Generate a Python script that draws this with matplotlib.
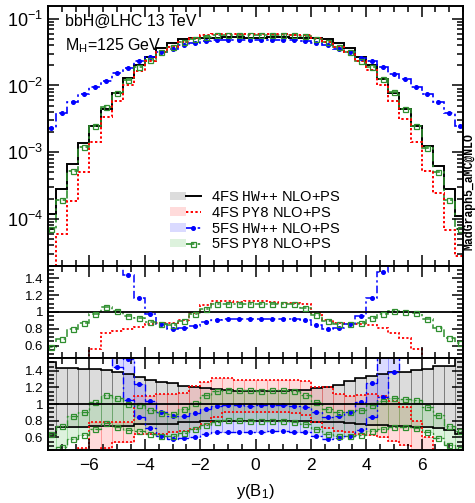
import numpy as np
import matplotlib
matplotlib.use('Agg')
import matplotlib.pyplot as plt
from matplotlib.patches import Patch
from matplotlib.lines import Line2D
from matplotlib.legend_handler import HandlerTuple
from matplotlib.ticker import MultipleLocator, LogLocator, NullFormatter, FuncFormatter

plt.rcParams['font.family'] = ['Liberation Sans', 'DejaVu Sans']
plt.rcParams['mathtext.fontset'] = 'custom'
plt.rcParams['mathtext.rm'] = 'Liberation Sans'
plt.rcParams['mathtext.it'] = 'Liberation Sans:italic'
plt.rcParams['mathtext.tt'] = 'Liberation Mono'

# binning in y(B1)
bin_start = -7.6
bin_width = 0.4
n_bins = 38
edges = bin_start + bin_width * np.arange(n_bins + 1)
centers = 0.5 * (edges[1:] + edges[:-1])

# main panel: normalised distributions
y_4fs_hw = [1.2e-4, 2.8e-4, 6.6e-4, 1.36e-3, 2.5e-3, 4.45e-3, 7.7e-3, 1.28e-2, 2.0e-2, 2.7e-2,
            3.7e-2, 4.4e-2, 4.95e-2, 5.15e-2, 5.2e-2, 5.2e-2, 5.25e-2, 5.25e-2, 5.2e-2, 5.2e-2,
            5.25e-2, 5.25e-2, 5.2e-2, 5.2e-2, 5.15e-2, 5.0e-2, 4.4e-2, 3.7e-2, 2.7e-2, 2.0e-2,
            1.26e-2, 7.8e-3, 4.5e-3, 2.5e-3, 1.25e-3, 6.3e-4, 2.8e-4, 1.1e-4]
y_4fs_py8 = [1.5e-5, 5.9e-5, 1.86e-4, 5.0e-4, 1.41e-3, 3.36e-3, 5.93e-3, 1.02e-2, 1.64e-2, 2.30e-2,
             3.20e-2, 3.81e-2, 4.46e-2, 5.10e-2, 5.62e-2, 5.90e-2, 5.93e-2, 5.90e-2, 5.88e-2, 5.90e-2,
             5.88e-2, 5.82e-2, 5.77e-2, 5.67e-2, 5.10e-2, 4.55e-2, 3.81e-2, 3.16e-2, 2.30e-2, 1.68e-2,
             1.02e-2, 5.89e-3, 3.13e-3, 1.41e-3, 5.3e-4, 2.43e-4, 6.8e-5, 2.8e-5]
y_5fs_hw = [2.3e-3, 3.9e-3, 5.75e-3, 7.4e-3, 9.45e-3, 1.17e-2, 1.53e-2, 1.84e-2, 2.32e-2, 2.63e-2,
            3.15e-2, 3.52e-2, 3.98e-2, 4.3e-2, 4.58e-2, 4.73e-2, 4.78e-2, 4.78e-2, 4.76e-2, 4.78e-2,
            4.84e-2, 4.84e-2, 4.76e-2, 4.68e-2, 4.38e-2, 3.98e-2, 3.54e-2, 3.15e-2, 2.57e-2, 2.33e-2,
            1.86e-2, 1.49e-2, 1.24e-2, 9.6e-3, 7.5e-3, 5.6e-3, 3.9e-3, 2.5e-3]
y_5fs_py8 = [7.0e-5, 1.9e-4, 5.28e-4, 1.18e-3, 2.44e-3, 4.72e-3, 7.78e-3, 1.22e-2, 1.86e-2, 2.38e-2,
             3.15e-2, 3.74e-2, 4.43e-2, 5.0e-2, 5.38e-2, 5.67e-2, 5.77e-2, 5.77e-2, 5.69e-2, 5.69e-2,
             5.72e-2, 5.72e-2, 5.67e-2, 5.46e-2, 4.97e-2, 4.45e-2, 3.76e-2, 3.16e-2, 2.36e-2, 1.86e-2,
             1.23e-2, 7.88e-3, 4.5e-3, 2.46e-3, 1.14e-3, 5.13e-4, 1.95e-4, 7.0e-5]

# bottom panel: uncertainty bands, as ratio to 4FS HW++ central
band_4fs_hw_hi = [1.50, 1.43, 1.43, 1.42, 1.42, 1.41, 1.39, 1.36, 1.33, 1.29,
                  1.27, 1.25, 1.22, 1.21, 1.19, 1.18, 1.17, 1.16, 1.155, 1.155,
                  1.155, 1.16, 1.165, 1.17, 1.19, 1.21, 1.235, 1.28, 1.31, 1.34,
                  1.36, 1.38, 1.39, 1.41, 1.42, 1.46, 1.46, 1.55]
band_4fs_hw_lo = [0.63, 0.72, 0.72, 0.72, 0.74, 0.74, 0.74, 0.74, 0.76, 0.76,
                  0.76, 0.76, 0.78, 0.78, 0.80, 0.80, 0.80, 0.80, 0.80, 0.80,
                  0.80, 0.80, 0.80, 0.80, 0.79, 0.785, 0.78, 0.77, 0.76, 0.755,
                  0.745, 0.74, 0.735, 0.725, 0.72, 0.71, 0.685, 0.645]
band_4fs_py8_hi = [0.18, 0.30, 0.40, 0.47, 0.79, 0.79, 0.79, 0.79, 1.10, 1.10,
                   1.12, 1.12, 1.13, 1.22, 1.27, 1.31, 1.31, 1.29, 1.29, 1.29,
                   1.29, 1.29, 1.29, 1.28, 1.21, 1.20, 1.12, 1.10, 1.11, 1.12,
                   1.10, 1.04, 0.97, 0.80, 0.60, 0.31, 0.15, 0.10]
band_4fs_py8_lo = [0.08, 0.15, 0.20, 0.27, 0.44, 0.47, 0.54, 0.54, 0.64, 0.64,
                   0.64, 0.66, 0.68, 0.70, 0.76, 0.85, 0.90, 0.90, 0.90, 0.90,
                   0.90, 0.90, 0.89, 0.87, 0.78, 0.71, 0.675, 0.66, 0.645, 0.635,
                   0.60, 0.56, 0.51, 0.41, 0.30, 0.15, 0.08, 0.05]
band_5fs_hw_hi = [20.3, 14.9, 9.3, 5.8, 4.0, 2.8, 2.13, 1.54, 1.24, 1.04,
                  0.91, 0.855, 0.86, 0.895, 0.94, 0.975, 0.985, 0.985, 0.98, 0.985,
                  0.995, 0.995, 0.98, 0.965, 0.91, 0.85, 0.86, 0.91, 1.02, 1.25,
                  1.58, 2.04, 2.95, 4.1, 6.4, 9.5, 14.9, 24.3]
band_5fs_hw_lo = [13.9, 10.1, 6.4, 3.9, 2.76, 1.92, 1.45, 1.05, 0.85, 0.71,
                  0.62, 0.585, 0.59, 0.61, 0.64, 0.665, 0.67, 0.67, 0.67, 0.67,
                  0.68, 0.68, 0.67, 0.66, 0.62, 0.58, 0.59, 0.62, 0.69, 0.85,
                  1.08, 1.39, 2.01, 2.8, 4.4, 6.5, 10.1, 16.6]
band_5fs_py8_hi = [0.64, 0.74, 0.855, 0.91, 1.025, 1.11, 1.07, 1.005, 0.985, 0.925,
                   0.89, 0.885, 0.945, 1.015, 1.105, 1.155, 1.175, 1.17, 1.165, 1.16,
                   1.165, 1.165, 1.155, 1.11, 1.02, 0.945, 0.905, 0.905, 0.93, 0.985,
                   1.035, 1.07, 1.06, 1.045, 0.965, 0.865, 0.735, 0.675]
band_5fs_py8_lo = [0.425, 0.49, 0.58, 0.63, 0.705, 0.77, 0.73, 0.69, 0.675, 0.64,
                   0.615, 0.615, 0.65, 0.705, 0.75, 0.79, 0.805, 0.805, 0.795, 0.795,
                   0.80, 0.80, 0.79, 0.76, 0.70, 0.645, 0.62, 0.62, 0.635, 0.675,
                   0.705, 0.73, 0.725, 0.715, 0.66, 0.59, 0.505, 0.46]

labels = [r'4FS $\mathtt{HW{+}{+}}$ NLO+PS', r'4FS $\mathtt{PY8}$ NLO+PS',
          r'5FS $\mathtt{HW{+}{+}}$ NLO+PS', r'5FS $\mathtt{PY8}$ NLO+PS']

green = '#2f8f2f'
c_line = ['black', 'red', 'blue', green]
c_fill = [(0.55, 0.55, 0.55, 0.3), (1.0, 0.5, 0.5, 0.28), (0.45, 0.45, 1.0, 0.26), (0.45, 0.8, 0.45, 0.24)]
c_edge = [(0.35, 0.35, 0.35, 0.5), (1.0, 0.45, 0.45, 0.4), (0.4, 0.4, 1.0, 0.35), (0.4, 0.75, 0.4, 0.3)]
ls_main = ['-', (0, (1.2, 1.2)), (0, (5, 2, 1.5, 2)), (0, (5, 2, 1.5, 2))]
markers = [None, None, 'o', 's']

fig = plt.figure(figsize=(4.75, 5.03), dpi=100)
ax1 = fig.add_axes([0.101, 0.472, 0.874, 0.516])
ax2 = fig.add_axes([0.101, 0.2877, 0.874, 0.1843])
ax3 = fig.add_axes([0.101, 0.1054, 0.874, 0.1823])

def draw_curve(ax, vals, k, lw=1.3):
    ax.stairs(vals, edges, color=c_line[k], ls=ls_main[k], lw=lw, baseline=None)
    if markers[k] == 'o':
        ax.plot(centers, vals, 'o', color=c_line[k], ms=2.6, ls='none')
    elif markers[k] == 's':
        ax.plot(centers, vals, 's', mfc='none', mec=c_line[k], mew=0.9, ms=3.6, ls='none')

# main panel
curves = [y_4fs_hw, y_4fs_py8, y_5fs_hw, y_5fs_py8]
for k in [0, 2, 3, 1]:
    draw_curve(ax1, np.array(curves[k]), k, lw=1.4 if k < 2 else 1.2)
ax1.set_yscale('log')
ax1.set_ylim(2e-5, 0.155)

ax1.text(0.042, 0.968, 'bbH@LHC 13 TeV', transform=ax1.transAxes, fontsize=11.5, va='top')
ax1.text(0.042, 0.885, r'M$_\mathregular{H}$=125 GeV', transform=ax1.transAxes, fontsize=11.5, va='top')

handles = []
for k in range(4):
    p = Patch(facecolor=c_fill[k], edgecolor='none')
    if markers[k] == 'o':
        l = Line2D([], [], color=c_line[k], ls=ls_main[k], lw=1.2, marker='o', ms=2.6)
    elif markers[k] == 's':
        l = Line2D([], [], color=c_line[k], ls=ls_main[k], lw=1.2, marker='s', mfc='none', ms=3.6, mew=0.9)
    else:
        l = Line2D([], [], color=c_line[k], ls=ls_main[k], lw=1.4)
    handles.append((p, l))
ax1.legend(handles, labels, handler_map={tuple: HandlerTuple(ndivide=None, pad=0)},
           loc='center left', bbox_to_anchor=(0.295, 0.173), frameon=False, fontsize=10.5,
           handlelength=2.1, handletextpad=0.7, labelspacing=0.12, borderpad=0, borderaxespad=0,
           handleheight=0.5, numpoints=1)

# middle panel: ratio to 4FS HW++
ref = np.array(y_4fs_hw)
ax2.axhline(1.0, color='black', lw=1.3)
for k in [1, 2, 3]:
    draw_curve(ax2, np.array(curves[k]) / ref, k, lw=1.3 if k == 1 else 1.1)

# bottom panel: bands
bands = [(band_4fs_hw_lo, band_4fs_hw_hi), (band_4fs_py8_lo, band_4fs_py8_hi),
         (band_5fs_hw_lo, band_5fs_hw_hi), (band_5fs_py8_lo, band_5fs_py8_hi)]
for k in range(4):
    lo = np.array(bands[k][0])
    hi = np.array(bands[k][1])
    ax3.bar(centers, hi - lo, bottom=lo, width=bin_width, color=c_fill[k],
            edgecolor=c_edge[k], linewidth=0.7)
for k in range(4):
    lo = np.array(bands[k][0])
    hi = np.array(bands[k][1])
    draw_curve(ax3, lo, k, lw=1.2 if k < 2 else 1.0)
    draw_curve(ax3, hi, k, lw=1.2 if k < 2 else 1.0)
ax3.axhline(1.0, color='black', lw=1.3)

for ax in [ax2, ax3]:
    ax.set_ylim(0.45, 1.55)
    ax.yaxis.set_major_locator(MultipleLocator(0.2))
    ax.yaxis.set_minor_locator(MultipleLocator(0.05))
    ax.yaxis.set_major_formatter(FuncFormatter(lambda v, p: '%g' % round(v, 2) if 0.5 < v < 1.5 else ''))
    ax.tick_params(axis='y', labelsize=9.5)

for ax in [ax1, ax2, ax3]:
    ax.set_xlim(-7.5, 7.5)
    ax.xaxis.set_major_locator(MultipleLocator(2))
    ax.xaxis.set_minor_locator(MultipleLocator(0.5))
    ax.tick_params(which='both', direction='in', top=True, right=True, width=1.1)
    ax.tick_params(which='major', length=8)
    ax.tick_params(which='minor', length=4)
    for s in ax.spines.values():
        s.set_linewidth(1.4)
    if ax is not ax3:
        ax.tick_params(labelbottom=False)

ax1.yaxis.set_major_locator(LogLocator(base=10, numticks=10))
ax1.yaxis.set_minor_locator(LogLocator(base=10, subs=np.arange(2, 10), numticks=20))
ax1.yaxis.set_minor_formatter(NullFormatter())
ax1.tick_params(axis='y', labelsize=13)

ax3.tick_params(axis='x', labelsize=12.5, pad=6)
ax3.set_xlabel(r'y(B$_\mathregular{1}$)', fontsize=12, labelpad=6)

fig.text(0.989, 0.62, 'MadGraph5_aMC@NLO', rotation=90, ha='center', va='center',
         fontsize=8.3, family='Liberation Mono', weight='bold')

fig.savefig('out.png', dpi=100)
